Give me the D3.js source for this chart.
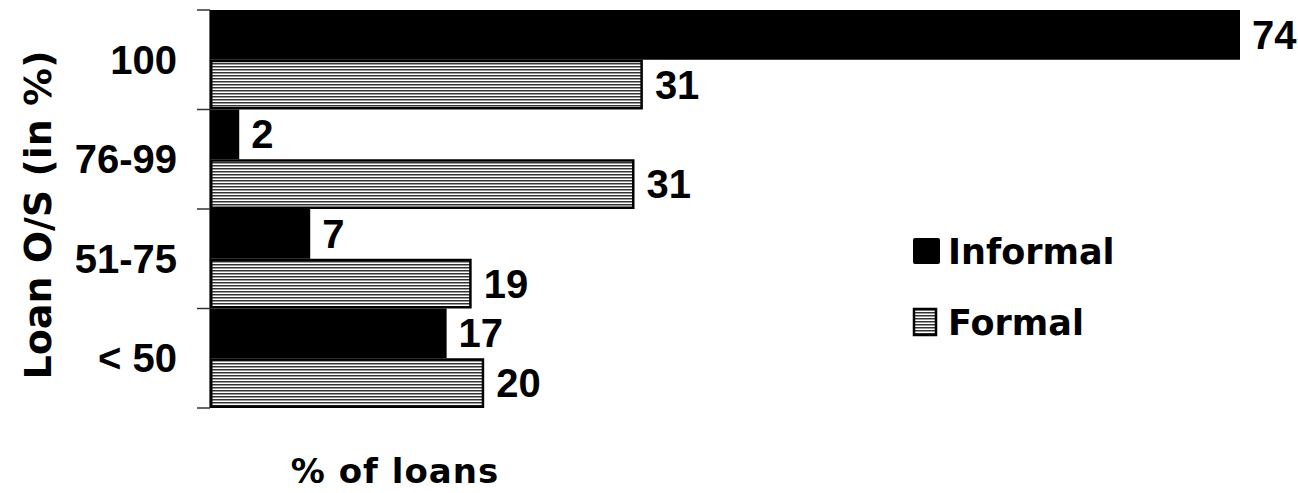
<!DOCTYPE html>
<html>
<head>
<meta charset="utf-8">
<script src="https://cdn.jsdelivr.net/npm/d3@7/dist/d3.min.js"></script>
<style>
  html, body { margin: 0; padding: 0; background: #fff; }
  svg { display: block; }
</style>
</head>
<body>
<div id="chart"></div>
<script>
// ---- data ----
const categories = ["100", "76-99", "51-75", "< 50"];
const seriesNames = ["Informal", "Formal"];
const informal = [74, 2.1, 7.2, 17.0];
const formal = [31.1, 30.5, 18.8, 19.7];
const xTitle = "% of loans";
const yTitle = "Loan O/S (in %)";

const W = 1298, H = 493;
const svg = d3.select("#chart").append("svg").attr("width", W).attr("height", H);

const defs = svg.append("defs");
const pat = defs.append("pattern")
  .attr("id", "stripes").attr("patternUnits", "userSpaceOnUse")
  .attr("width", 6).attr("height", 3);
pat.append("rect").attr("x", 0).attr("y", 0).attr("width", 6).attr("height", 1).attr("fill", "#333333");
pat.append("rect").attr("x", 0).attr("y", 1).attr("width", 6).attr("height", 1).attr("fill", "#9a9a9a");
pat.append("rect").attr("x", 0).attr("y", 2).attr("width", 6).attr("height", 1).attr("fill", "#ffffff");

const x = d3.scaleLinear().domain([0, 74]).range([210, 1240]);
const y = d3.scaleBand().domain(categories).range([10, 408]).paddingInner(0).paddingOuter(0);
const ySub = d3.scaleBand().domain(seriesNames).range([0, y.bandwidth()]).padding(0);

const numFont = "'Liberation Sans', Arial, sans-serif";
const wordFont = "'DejaVu Sans', sans-serif";

// axis
const yAxis = d3.axisLeft(y).tickSize(13).tickFormat("");
const gAx = svg.append("g").attr("transform", "translate(210,0)").call(yAxis);
gAx.select(".domain").attr("stroke", "#333").attr("stroke-width", 1.5).attr("d", "M0,10V408");
gAx.selectAll(".tick").remove();
// tick marks at band boundaries
const bounds = categories.map(c => y(c)).concat([y(categories[categories.length - 1]) + y.bandwidth()]);
gAx.selectAll("line.bnd").data(bounds).enter().append("line")
  .attr("class", "bnd").attr("x1", -13).attr("x2", 0)
  .attr("y1", d => d).attr("y2", d => d)
  .attr("stroke", "#333").attr("stroke-width", 1.5);

// category labels
svg.append("g").selectAll("text").data(categories).enter().append("text")
  .attr("x", 177).attr("y", d => y(d) + y.bandwidth() / 2 + 14)
  .attr("text-anchor", "end")
  .attr("font-family", numFont).attr("font-weight", "bold").attr("font-size", 40)
  .text(d => d);

const rows = categories.map((c, i) => ({ c, inf: informal[i], frm: formal[i] }));

// informal bars
svg.append("g").selectAll("rect").data(rows).enter().append("rect")
  .attr("x", x(0)).attr("y", d => y(d.c) + ySub("Informal"))
  .attr("width", d => x(d.inf) - x(0)).attr("height", ySub.bandwidth())
  .attr("fill", "#000");

// formal bars
svg.append("g").selectAll("rect").data(rows).enter().append("rect")
  .attr("x", x(0) + 1.25).attr("y", d => y(d.c) + ySub("Formal") + 1.25)
  .attr("width", d => x(d.frm) - x(0) - 2.5).attr("height", ySub.bandwidth() - 2.5)
  .attr("fill", "url(#stripes)").attr("stroke", "#000").attr("stroke-width", 2.5);

// value labels
const fmt = v => String(Math.round(v));
const lab = svg.append("g").attr("font-family", numFont).attr("font-weight", "bold").attr("font-size", 40);
lab.selectAll("text.inf").data(rows).enter().append("text").attr("class", "inf")
  .attr("x", d => x(d.inf) + 12).attr("y", d => y(d.c) + ySub("Informal") + ySub.bandwidth() / 2 + 14)
  .text(d => fmt(d.inf));
lab.selectAll("text.frm").data(rows).enter().append("text").attr("class", "frm")
  .attr("x", d => x(d.frm) + 12).attr("y", d => y(d.c) + ySub("Formal") + ySub.bandwidth() / 2 + 14)
  .text(d => fmt(d.frm));

// legend
const leg = svg.append("g");
const legY = [251, 322];
seriesNames.forEach((s, i) => {
  if (i === 0) {
    leg.append("rect").attr("x", 913).attr("y", legY[i] - 13).attr("width", 27).attr("height", 26)
      .attr("fill", "#000").attr("rx", 2);
  } else {
    leg.append("rect").attr("x", 914).attr("y", legY[i] - 13).attr("width", 22).attr("height", 26)
      .attr("fill", "url(#stripes)").attr("stroke", "#000").attr("stroke-width", 2.5);
  }
  leg.append("text").attr("x", 948).attr("y", legY[i] + 13)
    .attr("font-family", wordFont).attr("font-weight", "bold").attr("font-size", 35)
    .text(s);
});

// axis titles
svg.append("text").attr("x", 395).attr("y", 483).attr("text-anchor", "middle")
  .attr("font-family", wordFont).attr("font-weight", "bold").attr("font-size", 34)
  .attr("letter-spacing", 1)
  .text(xTitle);

svg.append("text").attr("transform", "translate(51,215) rotate(-90)")
  .attr("text-anchor", "middle")
  .attr("font-family", wordFont).attr("font-weight", "bold").attr("font-size", 38)
  .text(yTitle);
</script>
</body>
</html>
